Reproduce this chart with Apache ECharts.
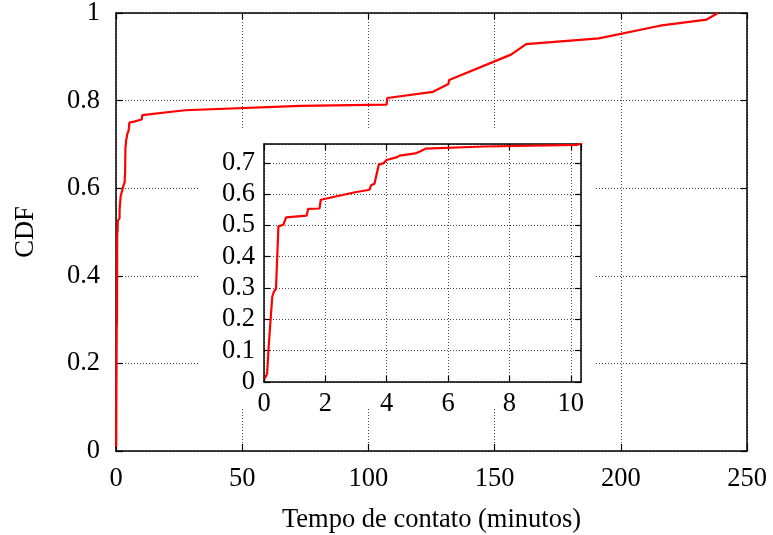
<!DOCTYPE html>
<html>
<head>
<meta charset="utf-8">
<script src="https://cdn.jsdelivr.net/npm/echarts@6/dist/echarts.min.js"></script>
<style>
  html, body { margin: 0; padding: 0; background: #fff; }
  #chart { width: 773px; height: 535px; }
</style>
</head>
<body>
<div id="chart"></div>
<script>
// CDF of contact time, with zoomed inset for the first 10 minutes

// --- data ---
var cdfX = [0.02, 0.1, 0.12, 0.16, 0.23, 0.27, 0.33, 0.39, 0.47, 0.63, 0.72, 1.39, 1.44, 1.81, 1.85,
            2.97, 3.44, 3.49, 3.6, 3.74, 3.9, 3.99, 4.34, 4.42, 4.93, 5.1, 5.26, 5.29, 7.17, 10.2,
            10.4, 27.3, 72.9, 107.2, 107.5, 125.6, 131.7, 132, 156.5, 162.5, 191.3, 215.5, 234, 238.5];
var cdfY = [0.01, 0.026, 0.026, 0.124, 0.22, 0.273, 0.29, 0.297, 0.497, 0.502, 0.526, 0.531, 0.553, 0.554, 0.582,
            0.606, 0.614, 0.628, 0.633, 0.694, 0.699, 0.709, 0.718, 0.723, 0.73, 0.737, 0.745, 0.75, 0.752, 0.757,
            0.767, 0.778, 0.788, 0.791, 0.806, 0.82, 0.838, 0.847, 0.905, 0.929, 0.942, 0.971, 0.985, 1.0];

var xTitle = 'Tempo de contato (minutos)';
var yTitle = 'CDF';

var points = cdfX.map(function (x, i) { return [x, cdfY[i]]; });

var font = 'Liberation Serif';
var fsize = 26.5;
var gridLine = { show: true, lineStyle: { color: '#444', type: [1, 2], width: 1 } };
var border = { show: true, onZero: false, lineStyle: { color: '#000', width: 1.5 } };

function mirrorAxis(grid, pos, min, max, interval, z) {
  return {
    type: 'value', gridIndex: grid, position: pos, min: min, max: max, interval: interval, z: z,
    axisLine: border,
    axisTick: { show: true, inside: true, length: 6, lineStyle: { color: '#000', width: 1.2 } },
    axisLabel: { show: false },
    splitLine: { show: false }
  };
}

var myChart = echarts.init(document.getElementById('chart'));

myChart.setOption({
  animation: false,
  backgroundColor: '#fff',
  grid: [
    { left: 116, right: 26, top: 13, bottom: 84, outerBoundsMode: 'none', containLabel: false },
    { left: 264, right: 192, top: 144, bottom: 153, z: 3, outerBoundsMode: 'none', containLabel: false }
  ],
  // white patch behind the inset and its labels
  graphic: [{
    type: 'rect', z: 2, silent: true,
    shape: { x: 200, y: 130, width: 395, height: 278 },
    style: { fill: '#fff' }
  }],
  xAxis: [
    {
      type: 'value', gridIndex: 0, min: 0, max: 250, interval: 50,
      name: xTitle, nameLocation: 'middle', nameGap: 56,
      nameTextStyle: { fontFamily: font, fontSize: fsize, color: '#000' },
      axisLine: border,
      axisTick: { show: true, inside: true, length: 7, lineStyle: { color: '#000', width: 1.2 } },
      axisLabel: { fontFamily: font, fontSize: fsize, color: '#000', margin: 15 },
      splitLine: gridLine
    },
    {
      type: 'value', gridIndex: 1, min: 0, max: 10.33, interval: 2, z: 4,
      axisLine: border,
      axisTick: { show: true, inside: true, length: 6, lineStyle: { color: '#000', width: 1.2 } },
      axisLabel: { fontFamily: font, fontSize: fsize, color: '#000', margin: 9, showMaxLabel: false },
      splitLine: gridLine
    },
    mirrorAxis(0, 'top', 0, 250, 50, 0),
    mirrorAxis(1, 'top', 0, 10.33, 2, 4)
  ],
  yAxis: [
    {
      type: 'value', gridIndex: 0, min: 0, max: 1, interval: 0.2,
      name: yTitle, nameLocation: 'middle', nameGap: 76,
      nameTextStyle: { fontFamily: font, fontSize: fsize, color: '#000' },
      axisLine: border,
      axisTick: { show: true, inside: true, length: 7, lineStyle: { color: '#000', width: 1.2 } },
      axisLabel: { fontFamily: font, fontSize: fsize, color: '#000', margin: 16 },
      splitLine: gridLine
    },
    {
      type: 'value', gridIndex: 1, min: 0, max: 0.76, interval: 0.1, z: 4,
      axisLine: border,
      axisTick: { show: true, inside: true, length: 6, lineStyle: { color: '#000', width: 1.2 } },
      axisLabel: { fontFamily: font, fontSize: fsize, color: '#000', margin: 9, showMaxLabel: false },
      splitLine: gridLine
    },
    mirrorAxis(0, 'right', 0, 1, 0.2, 0),
    mirrorAxis(1, 'right', 0, 0.76, 0.1, 4)
  ],
  series: [
    {
      type: 'line', xAxisIndex: 0, yAxisIndex: 0, data: points,
      showSymbol: false, lineStyle: { color: '#f00', width: 2.2 }, z: 1
    },
    {
      type: 'line', xAxisIndex: 1, yAxisIndex: 1, data: points, clip: true,
      showSymbol: false, lineStyle: { color: '#f00', width: 2.2 }, z: 5
    }
  ]
});
</script>
</body>
</html>
